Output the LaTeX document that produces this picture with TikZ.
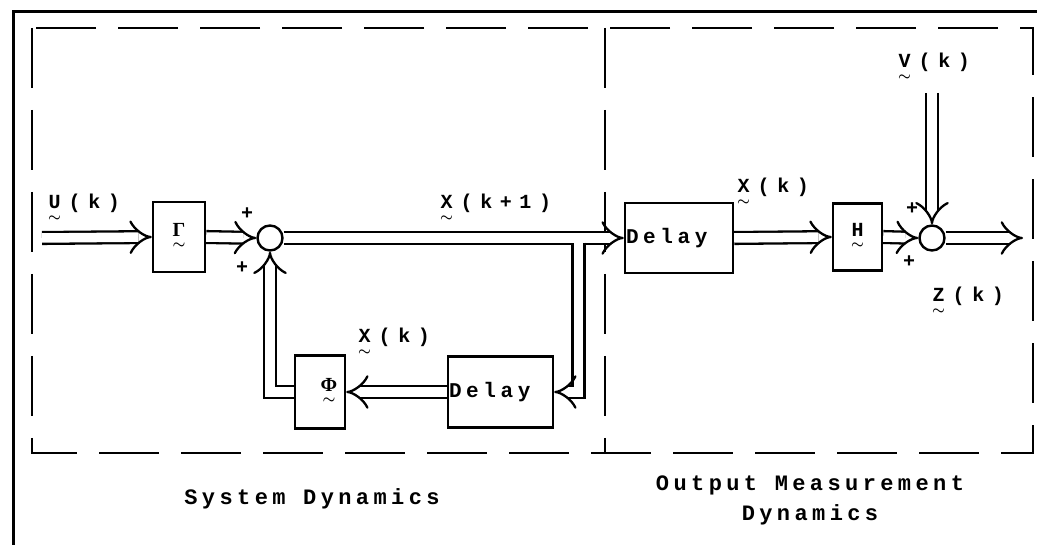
\documentclass[tikz,border=0pt]{standalone}
\usepackage{fontspec}
\usepackage{amsmath}
\usetikzlibrary{arrows.meta}
\newfontfamily\lblfont[LetterSpace=38]{Liberation Mono}
\newfontfamily\capfont[LetterSpace=20]{Liberation Mono}
\newfontfamily\boxfont[LetterSpace=22]{Liberation Mono}
\newfontfamily\grkfont{Liberation Serif}
\newcommand\tb[1]{$\underset{\boldsymbol{\sim}}{\text{#1}}$}
\newcommand\tv[1]{\tb{#1}\kern0.38em}
\begin{document}
\begin{tikzpicture}[x=1pt,y=-1pt,
  lbl/.style={font={\fontsize{20}{22}\lblfont\bfseries}, inner sep=0pt},
  capt/.style={font={\fontsize{22}{30}\capfont\bfseries}, inner sep=0pt, align=center},
  blk/.style={draw, line width=2.4pt, inner sep=0pt, font={\fontsize{20}{22}\lblfont\bfseries}},
  dblk/.style={draw, line width=2.4pt, inner xsep=1pt, inner ysep=0pt, align=left, font={\fontsize{21}{24}\boxfont\bfseries}},
  sum/.style={draw, circle, line width=2.4pt, minimum size=25pt, inner sep=0pt},
  dbl/.style={double, double distance=9.5pt, line width=2.3pt, line cap=butt},
  arr/.style={-{Implies[length=20pt,width=32pt,line width=2.4pt]}},
  sarr/.style={-{Implies[length=13pt,width=26pt,line width=2.4pt]}},
  frame/.style={line width=2.6pt, dash pattern=on 60pt off 22pt},
]
\useasboundingbox (0,0) rectangle (1037,545);
% outer solid frame
\draw[line width=3pt] (13,545) -- (13,12) -- (1037,12);
% dashed boxes
\draw[frame] (32,28) rectangle (1033,453);
\draw[frame] (605,28) -- (605,453);

% blocks
\node[blk, minimum width=52pt, minimum height=70pt] (G) at (179,237) {\tb{\grkfont\bfseries Γ}};
\node[sum] (s1) at (270,238) {};
\node[blk, minimum width=50pt, minimum height=73pt] (P) at (320,392) {\hspace*{18pt}\tb{\grkfont\bfseries Φ}};
\node[dblk, text width=103pt, minimum height=71pt] (D2) at (500.5,392) {Delay};
\node[dblk, text width=106pt, minimum height=70pt] (D1) at (679,238) {Delay};
\node[blk, minimum width=49pt, minimum height=67pt] (H) at (857.5,237) {\tb{H}};
\node[sum] (s2) at (932,238) {};

\coordinate (in) at (42,238);
\coordinate (vin) at (932,93);
\coordinate (out) at (1023,238);
\coordinate (br) at (578.5,242.75);

% connectors
\draw[dbl,arr] (in) -- (G.west);
\draw[dbl,arr] (G.east) -- (s1.west);
\draw[dbl,arr] (s1.east) -- (D1.west);
\draw[dbl,sarr] (br) |- (D2.east);
\draw[dbl,arr] (D2.west) -- (P.east);
\draw[dbl,arr] (P.west) -| (s1.south);
\draw[dbl,arr] (D1.east) -- (H.west);
\draw[dbl,arr] (H.east) -- (s2.west);
\draw[dbl,arr] (vin) -- (s2.north);
\draw[dbl,arr] (s2.east) -- (out);

% signs
\node[lbl] (p1) at (247,214) {+};
\node[lbl] (p2) at (242,268) {+};
\node[lbl] (p3) at (912,209) {+};
\node[lbl] (p4) at (909,262) {+};

% labels
\node[lbl, anchor=base west] (lu) at (48,209) {\tv{U}(k)};
\node[lbl, anchor=base west] (lx1) at (440,209) {\tv{X}(k+1)};
\node[lbl, anchor=base west] (lx2) at (737,193) {\tv{X}(k)};
\node[lbl, anchor=base west] (lx3) at (358,343) {\tv{X}(k)};
\node[lbl, anchor=base west] (lv) at (898,68) {\tv{V}(k)};
\node[lbl, anchor=base west] (lz) at (932,302) {\tv{Z}(k)};

% captions
\node[capt] (c1) at (312,499) {System Dynamics};
\node[capt] (c2) at (810,500) {Output Measurement\\Dynamics};
\end{tikzpicture}
\end{document}
